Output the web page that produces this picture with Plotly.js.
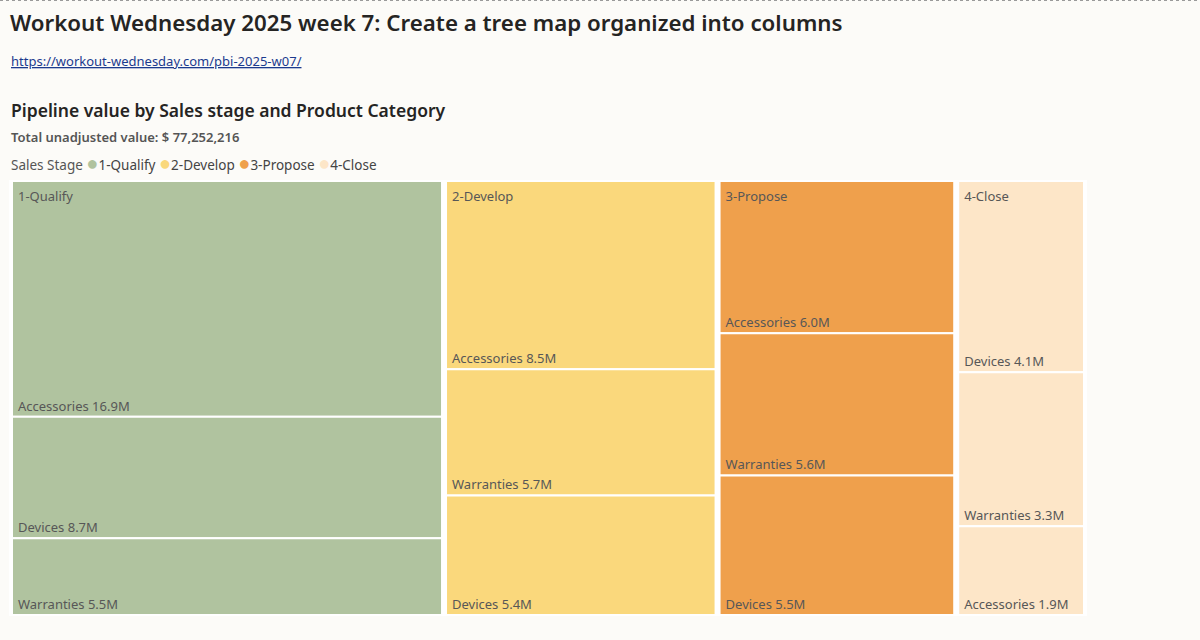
<!DOCTYPE html>
<html>
<head>
<meta charset="utf-8">
<script src="https://cdn.plot.ly/plotly-3.0.1.min.js"></script>
<style>
  html, body { margin: 0; padding: 0; background: #fcfbf8; }
  #chart { width: 1200px; height: 640px; }
</style>
</head>
<body>
<div id="chart"></div>
<script>
// ---- data ----
var stages = ['1-Qualify', '2-Develop', '3-Propose', '4-Close'];
var stageColors = ['#b0c39f', '#fad87c', '#efa04c', '#fde6c8'];
var categories = ['Accessories', 'Devices', 'Warranties'];
// values in millions, rows follow stages, columns follow categories
var qualifyValues = [16.9, 8.7, 5.5];
var developValues = [8.5, 5.4, 5.7];
var proposeValues = [6.0, 5.5, 5.6];
var closeValues = [1.9, 4.1, 3.3];
var totalValue = 77252216;

var titleText = 'Workout Wednesday 2025 week 7: Create a tree map organized into columns';
var linkUrl = 'https://workout-wednesday.com/pbi-2025-w07/';
var subtitleText = 'Pipeline value by Sales stage and Product Category';
var legendTitle = 'Sales Stage';

// ---- build treemap arrays ----
var stageValues = [qualifyValues, developValues, proposeValues, closeValues];
var ids = [], labels = [], parents = [], values = [], colors = [], lineColors = [];
var leafText = [], headText = [];
var FONT = 'Segoe UI, Noto Sans, Open Sans, sans-serif';

stages.forEach(function (s, i) {
  ids.push(s); labels.push(s); parents.push(''); values.push(0);
  colors.push('#ffffff'); lineColors.push('#ffffff');
  leafText.push(''); headText.push('');
});
stages.forEach(function (s, i) {
  var vals = stageValues[i];
  var maxV = Math.max.apply(null, vals);
  categories.forEach(function (c, j) {
    ids.push(s + '/' + c); labels.push(c); parents.push(s); values.push(vals[j]);
    colors.push(stageColors[i]); lineColors.push('#ffffff');
    leafText.push(c + ' ' + vals[j].toFixed(1) + 'M');
    headText.push(vals[j] === maxV ? s : '');
  });
});

function dom(dx, dy) {
  return { x: [(8 + dx) / 1200, (1088 + dx) / 1200], y: [1 - (615 + dy) / 640, 1 - (181 + dy) / 640] };
}
var clear = ids.map(function () { return 'rgba(0,0,0,0)'; });
var common = {
  type: 'treemap', ids: ids, labels: labels, parents: parents, values: values,
  branchvalues: 'remainder', sort: true,
  tiling: { packing: 'slice-dice', pad: 0 },
  pathbar: { visible: false },
  textinfo: 'text'
};
var labelFont = { family: FONT, size: 13, color: '#575757' };

// tiles
var tiles = Object.assign({}, common, {
  domain: dom(0, 0),
  text: ids.map(function () { return ''; }),
  marker: { colors: colors, line: { color: lineColors, width: 2 }, pad: { t: 0, l: 2, r: 2, b: 0 } },
  textposition: 'bottom left',
  textfont: labelFont,
  hovertemplate: '%{parent}<br>%{label}: %{value:.1f}M<extra></extra>'
});
// category labels (bottom left of each tile)
var leafLabels = Object.assign({}, common, {
  domain: dom(3, 1),
  text: leafText,
  marker: { colors: clear, line: { width: 0 }, pad: { t: 0, l: 2, r: 2, b: 0 } },
  textposition: 'bottom left',
  textfont: labelFont,
  hoverinfo: 'skip'
});
// stage labels (top left of each column)
var stageLabels = Object.assign({}, common, {
  domain: dom(3, 3),
  text: headText,
  marker: { colors: clear, line: { width: 0 }, pad: { t: 0, l: 2, r: 2, b: 0 } },
  textposition: 'top left',
  textfont: labelFont,
  hoverinfo: 'skip'
});

var legendParts = [legendTitle];
stages.forEach(function (s, i) {
  legendParts.push('<span style="color:' + stageColors[i] + ';font-size:20px">\u25CF</span><span style="color:#444">' + s + '</span>');
});

var layout = {
  width: 1200, height: 640,
  margin: { l: 0, r: 0, t: 0, b: 0 },
  paper_bgcolor: '#fcfbf8',
  plot_bgcolor: '#fcfbf8',
  font: { family: FONT, color: '#252423' },
  title: {
    text: titleText, x: 10 / 1200, xanchor: 'left', xref: 'paper',
    y: 1 - 23 / 640, yanchor: 'middle', yref: 'paper',
    font: { family: FONT, size: 22.3, color: '#252423', weight: 600 }
  },
  uniformtext: { mode: 'show', minsize: 13 },
  showlegend: false,
  shapes: [{
    type: 'line', xref: 'paper', yref: 'paper', x0: 0, x1: 1, y0: 1 - 0.5 / 640, y1: 1 - 0.5 / 640,
    line: { color: '#9a9a9a', width: 1, dash: 'dot' }
  }],
  annotations: [
    { text: '<a href="' + linkUrl + '"><span style="color:#1b3a8e"><u>' + linkUrl + '</u></span></a>', xref: 'paper', yref: 'paper',
      x: 9 / 1200, y: 1 - 61 / 640, xanchor: 'left', yanchor: 'middle', showarrow: false,
      font: { family: FONT, size: 13, color: '#1b3a8e' } },
    { text: subtitleText, xref: 'paper', yref: 'paper',
      x: 9 / 1200, y: 1 - 110 / 640, xanchor: 'left', yanchor: 'middle', showarrow: false,
      font: { family: FONT, size: 17.5, color: '#252423', weight: 600 } },
    { text: 'Total unadjusted value: $ ' + totalValue.toLocaleString('en-US'), xref: 'paper', yref: 'paper',
      x: 9 / 1200, y: 1 - 137 / 640, xanchor: 'left', yanchor: 'middle', showarrow: false,
      font: { family: FONT, size: 13, color: '#555555', weight: 600 } },
    { text: legendParts.join(' '), xref: 'paper', yref: 'paper',
      x: 9 / 1200, y: 1 - 162.5 / 640, xanchor: 'left', yanchor: 'middle', showarrow: false,
      font: { family: FONT, size: 13.5, color: '#555555' } }
  ]
};

Plotly.newPlot('chart', [tiles, leafLabels, stageLabels], layout, { displayModeBar: false, responsive: false });
</script>
</body>
</html>
